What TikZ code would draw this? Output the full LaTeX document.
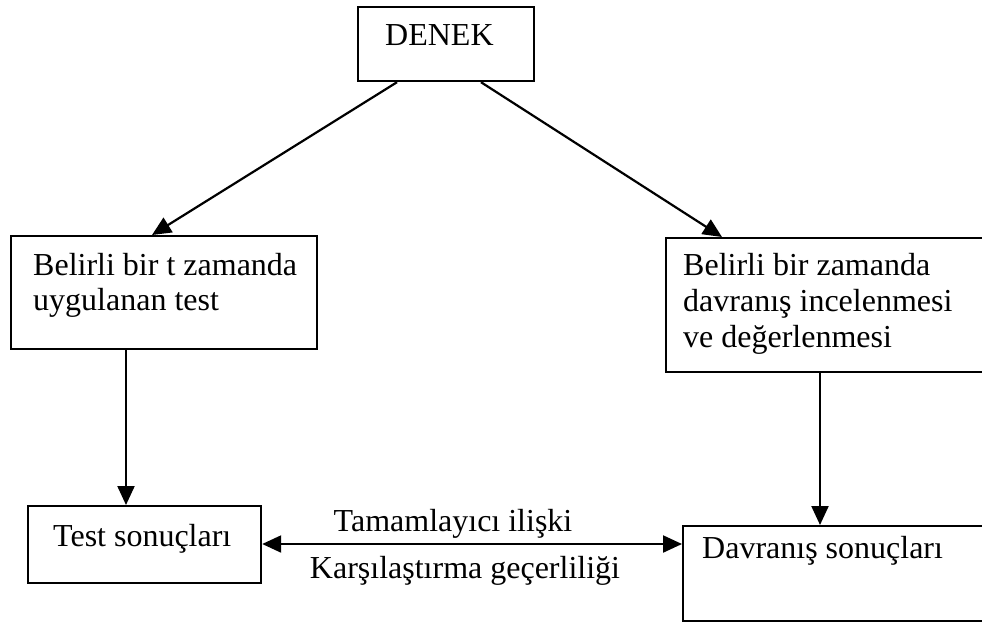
\documentclass[tikz,border=0pt]{standalone}
\usepackage{fontspec}
\setmainfont{Liberation Serif}
\usetikzlibrary{arrows.meta,calc}
\begin{document}
\begin{tikzpicture}[x=1pt,y=-1pt,
  box/.style={draw=black,line width=2.2pt,rectangle,inner sep=0pt,anchor=north west},
  txt/.style={inner sep=0pt,anchor=base west,font=\fontsize{32}{36}\selectfont,align=left},
  conn/.style={line width=2.2pt,-{Triangle[length=19pt,width=17pt]}},
  conn2/.style={line width=2.2pt,{Triangle[length=19pt,width=17pt]}-{Triangle[length=19pt,width=17pt]}}]
\useasboundingbox (0,0) rectangle (982,627);
\clip (0,0) rectangle (982,627);
% boxes
\node[box,minimum width=176pt,minimum height=74pt] (denek) at (357,6) {};
\node[box,minimum width=306pt,minimum height=113pt] (b1) at (10,235) {};
\node[box,minimum width=340pt,minimum height=134pt] (b2) at (665,237) {};
\node[box,minimum width=233pt,minimum height=77pt] (t1) at (27,505) {};
\node[box,minimum width=320pt,minimum height=95pt] (t2) at (682,525) {};
% texts
\node[txt] (denekt) at (385,45) {DENEK};
\node[txt] (b1t1) at (33,275) {Belirli bir t zamanda};
\node[txt] (b1t2) at (33,310) {uygulanan test};
\node[txt] (b2t1) at (683,275) {Belirli bir zamanda};
\node[txt] (b2t2) at (683,311) {davranış incelenmesi};
\node[txt] (b2t3) at (683,347) {ve değerlenmesi};
\node[txt] (t1t) at (53,546) {Test sonuçları};
\node[txt] (t2t) at (702,558) {Davranış sonuçları};
\node[txt,anchor=base] (l1) at (453,531) {Tamamlayıcı ilişki};
\node[txt,anchor=base] (l2) at (465,578) {Karşılaştırma geçerliliği};
% connectors
\draw[conn] ($(denek.south west)+(40,0)$) -- ($(b1.north west)+(142,0)$);
\draw[conn] ($(denek.south west)+(124,0)$) -- ($(b2.north west)+(57,0)$);
\draw[conn] ($(b1.south west)+(116,0)$) -- ($(t1.north west)+(99,0)$);
\draw[conn] ($(b2.south west)+(155,0)$) -- ($(t2.north west)+(138,0)$);
\draw[conn2] ($(t1.north east)+(0,39)$) -- ($(t2.north west)+(0,19)$);
\end{tikzpicture}
\end{document}
